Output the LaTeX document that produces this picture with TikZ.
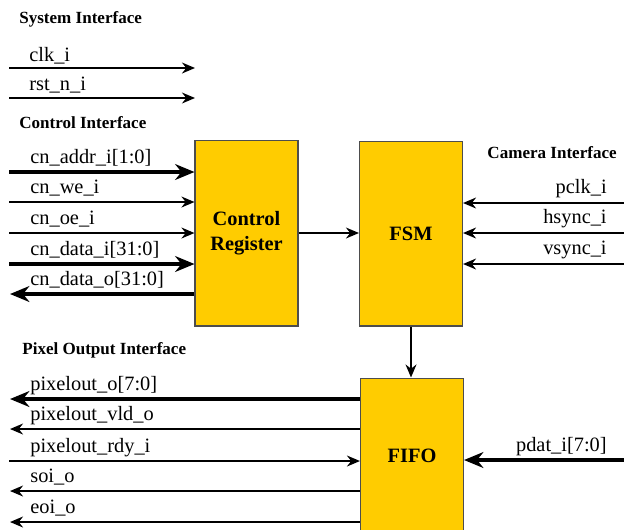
\documentclass[tikz,border=0pt]{standalone}
\usepackage{fontspec}
\setmainfont{Liberation Serif}
\usepackage{xcolor}
\usetikzlibrary{arrows.meta}

\definecolor{blockfill}{HTML}{FFCC00}
\definecolor{blockline}{HTML}{4D4D4D}
\newcommand{\siglabel}{\fontsize{11.6}{14}\selectfont}
\newcommand{\headlabel}{\fontsize{9.7}{12}\selectfont}

\begin{document}
\begin{tikzpicture}[x=0.02cm, y=-0.02cm,
		block/.style={draw=blockline, fill=blockfill, line width=0.6pt, inner sep=0pt,
			minimum width=2.06cm, align=center, font=\bfseries\siglabel},
		sig/.style={line width=1.13pt, -{Stealth[length=7.4pt, width=6.2pt]}},
		bus/.style={line width=2.1pt, -{Stealth[length=11pt, width=9pt]}},
		lbl/.style={anchor=base west, inner sep=0pt, font=\siglabel},
		rlbl/.style={anchor=base east, inner sep=0pt, font=\siglabel},
		head/.style={inner sep=0pt, font=\bfseries\headlabel}]

		\useasboundingbox (0,0) rectangle (624,529);
		\clip (0,0) rectangle (624,529);

		% blocks
		\node [block, minimum height=3.72cm] (ctrl) at (246.5,233) {Control\\Register};
		\node [block, minimum height=3.70cm] (fsm) at (411,233.5) {FSM};
		\node [block, minimum height=3.12cm] (fifo) at (412,456) {FIFO};

		% headings
		\node [head, anchor=west] (syshd) at (19,19) {System Interface};
		\node [head, anchor=west] (ctrlhd) at (19,123) {Control Interface};
		\node [head, anchor=east] (camhd) at (617,153) {Camera Interface};
		\node [head, anchor=west] (pixhd) at (22,350) {Pixel Output Interface};

		% system interface
		\coordinate (clkin) at (9,68);
		\coordinate (clkend) at (195,68);
		\coordinate (rstin) at (9,98);
		\coordinate (rstend) at (195,98);
		\draw [sig] (clkin) -- (clkend);
		\draw [sig, line width=0.85pt] (rstin) -- (rstend);
		\node [lbl] (clklbl) at (29,61) {clk\_i};
		\node [lbl] (rstlbl) at (29,90) {rst\_n\_i};

		% control interface
		\coordinate (addrin) at (9,172);
		\coordinate (wein) at (9,202);
		\coordinate (oein) at (9,233);
		\coordinate (datain) at (9,264);
		\coordinate (dataout) at (10,294);
		\draw [bus] (addrin) -- (addrin -| ctrl.west);
		\draw [sig] (wein) -- (wein -| ctrl.west);
		\draw [sig] (oein) -- (oein -| ctrl.west);
		\draw [bus] (datain) -- (datain -| ctrl.west);
		\draw [bus] (dataout -| ctrl.west) -- (dataout);
		\node [lbl] (addrlbl) at (30,163) {cn\_addr\_i[1:0]};
		\node [lbl] (welbl) at (30,193) {cn\_we\_i};
		\node [lbl] (oelbl) at (30,224) {cn\_oe\_i};
		\node [lbl] (datailbl) at (30,255) {cn\_data\_i[31:0]};
		\node [lbl] (dataolbl) at (30,285) {cn\_data\_o[31:0]};

		% block to block
		\draw [sig] (ctrl.east) -- (ctrl.east -| fsm.west);
		\draw [sig] (fsm.south) -- (fsm.south |- fifo.north);

		% camera interface
		\coordinate (pclkin) at (624,203);
		\coordinate (hsyncin) at (624,233);
		\coordinate (vsyncin) at (624,264);
		\coordinate (pdatin) at (624,460);
		\draw [sig] (pclkin) -- (pclkin -| fsm.east);
		\draw [sig] (hsyncin) -- (hsyncin -| fsm.east);
		\draw [sig] (vsyncin) -- (vsyncin -| fsm.east);
		\draw [bus] (pdatin) -- (pdatin -| fifo.east);
		\node [rlbl] (pclklbl) at (607,193) {pclk\_i};
		\node [rlbl] (hsynclbl) at (607,223) {hsync\_i};
		\node [rlbl] (vsynclbl) at (607,254) {vsync\_i};
		\node [rlbl] (pdatlbl) at (607,451) {pdat\_i[7:0]};

		% pixel output interface
		\coordinate (pixout) at (10,399);
		\coordinate (vldout) at (10,429);
		\coordinate (rdyin) at (9,461);
		\coordinate (soiout) at (10,491);
		\coordinate (eoiout) at (10,522);
		\draw [bus] (pixout -| fifo.west) -- (pixout);
		\draw [sig] (vldout -| fifo.west) -- (vldout);
		\draw [sig] (rdyin) -- (rdyin -| fifo.west);
		\draw [sig] (soiout -| fifo.west) -- (soiout);
		\draw [sig] (eoiout -| fifo.west) -- (eoiout);
		\node [lbl] (pixlbl) at (30,390) {pixelout\_o[7:0]};
		\node [lbl] (vldlbl) at (30,420) {pixelout\_vld\_o};
		\node [lbl] (rdylbl) at (30,452) {pixelout\_rdy\_i};
		\node [lbl] (soilbl) at (30,482) {soi\_o};
		\node [lbl] (eoilbl) at (30,513) {eoi\_o};
	\end{tikzpicture}
\end{document}
